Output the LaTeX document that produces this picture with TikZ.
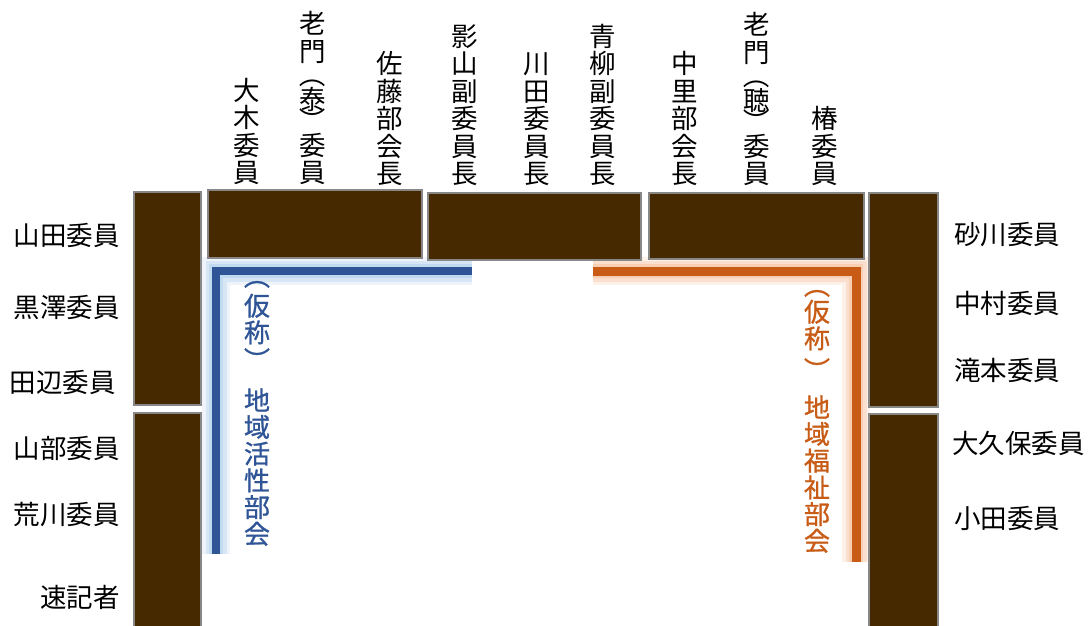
\documentclass[tikz,border=0pt]{standalone}
\usepackage{fontspec}
\setmainfont{Noto Sans CJK JP}
\newfontfamily\bukaifont[FakeBold=1]{Noto Sans CJK JP}
\usepackage{graphicx}
\usepackage{tikz}
\usepackage{xcolor}

\definecolor{deskbrown}{RGB}{71,41,0}
\definecolor{deskedge}{RGB}{135,135,135}
\definecolor{katsublue}{RGB}{47,85,151}
\definecolor{katsuglow}{RGB}{189,215,238}
\definecolor{fukuorange}{RGB}{200,92,22}
\definecolor{fukuglow}{RGB}{248,203,173}

% vertical parentheses
\newcommand{\vlp}{\rotatebox[origin=c]{-90}{（}}
\newcommand{\vrp}{\rotatebox[origin=c]{-90}{）}}

\tikzset{
  desk/.style={draw=deskedge, line width=2pt, fill=deskbrown, inner sep=0pt, outer sep=0pt, anchor=north west},
  member/.style={inner sep=0pt, font=\fontsize{26.5}{27.5}\selectfont},
  membercol/.style={member, align=center, anchor=south},
  bukai/.style={inner sep=0pt, align=center, font=\bukaifont\fontsize{26}{26.7}\selectfont},
  bukaiparen/.style={inner sep=0pt, rotate=-90, font=\bukaifont\fontsize{26}{26.7}\selectfont}
}

\begin{document}
\begin{tikzpicture}[x=1pt,y=-1pt]
        \useasboundingbox[fill=white] (0,0) rectangle (1090,625);
        % Bracket corners
        \coordinate (kA) at (472,271);
        \coordinate (kB) at (216,271);
        \coordinate (kC) at (216,554);
        \coordinate (fA) at (593,271);
        \coordinate (fB) at (856,271);
        \coordinate (fC) at (856,562);
        % Glow
        \foreach \w/\o in {28/0.25,21/0.45,14/0.8} {
          \draw[katsuglow, line width=\w pt, opacity=\o] (kA) -- (kB) -- (kC);
          \draw[fukuglow, line width=\w pt, opacity=\o] (fA) -- (fB) -- (fC);
        }
        % Desks
        \node[desk, minimum width=67, minimum height=213] (deskL1) at (134,192) {};
        \node[desk, minimum width=67, minimum height=220] (deskL2) at (134,413) {};
        \node[desk, minimum width=214, minimum height=68] (deskT1) at (208,190) {};
        \node[desk, minimum width=213, minimum height=67] (deskT2) at (428,193) {};
        \node[desk, minimum width=215, minimum height=66] (deskT3) at (649,193) {};
        \node[desk, minimum width=69, minimum height=214] (deskR1) at (869,193) {};
        \node[desk, minimum width=69, minimum height=220] (deskR2) at (869,414) {};
        % Brackets
        \draw[katsublue, line width=8pt] (kA) -- (kB) -- (kC);
        \draw[fukuorange, line width=9pt] (fA) -- (fB) -- (fC);
        % Bukai names
        \node[bukaiparen, text=katsublue] (katsuLP) at (257,276) {（};
        \node[bukai, text=katsublue] (katsuA) at (257,319) {仮\\称};
        \node[bukaiparen, text=katsublue] (katsuRP) at (257,360) {）};
        \node[bukai, text=katsublue, anchor=south] (katsuB) at (257,546) {地\\域\\活\\性\\部\\会};
        \node[bukaiparen, text=fukuorange] (fukuLP) at (817,285) {（};
        \node[bukai, text=fukuorange] (fukuA) at (817,325) {仮\\称};
        \node[bukaiparen, text=fukuorange] (fukuRP) at (817,370) {）};
        \node[bukai, text=fukuorange, anchor=south] (fukuB) at (817,553) {地\\域\\福\\祉\\部\\会};
        % Left side
        \node[member, anchor=east] (yamada) at (120,235) {山田委員};
        \node[member, anchor=east] (kurosawa) at (120,307) {黒澤委員};
        \node[member, anchor=east] (tanabe) at (116,382) {田辺委員};
        \node[member, anchor=east] (yamabe) at (120,448) {山部委員};
        \node[member, anchor=east] (arakawa) at (120,515) {荒川委員};
        \node[member, anchor=east] (sokki) at (120,597) {速記者};
        % Right side
        \node[member, anchor=west] (sunagawa) at (954,235) {砂川委員};
        \node[member, anchor=west] (nakamura) at (954,303) {中村委員};
        \node[member, anchor=west] (takimoto) at (954,370) {滝本委員};
        \node[member, anchor=west] (okubo) at (952,443) {大久保委員};
        \node[member, anchor=west] (oda) at (954,518) {小田委員};
        % Top row
        \node[membercol] (oki) at (247,185) {大\\木\\委\\員};
        \node[membercol] (oikadoY) at (313,185) {老\\門\\[-3.5pt]\vlp\\[-3.5pt]泰\\[-5.5pt]\vrp\\[-3.5pt]委\\員};
        \node[membercol] (sato) at (390,186) {佐\\藤\\部\\会\\長};
        \node[membercol] (kageyama) at (465,186) {影\\山\\副\\委\\員\\長};
        \node[membercol] (kawata) at (537,186) {川\\田\\委\\員\\長};
        \node[membercol] (aoyagi) at (603,186) {青\\柳\\副\\委\\員\\長};
        \node[membercol] (nakazato) at (685,186) {中\\里\\部\\会\\長};
        \node[membercol] (oikadoS) at (757,186) {老\\門\\[-3.5pt]\vlp\\[-3.5pt]聴\\[-5.5pt]\vrp\\[-3.5pt]委\\員};
        \node[membercol] (tsubaki) at (825,186) {椿\\委\\員};
    \end{tikzpicture}
\end{document}
